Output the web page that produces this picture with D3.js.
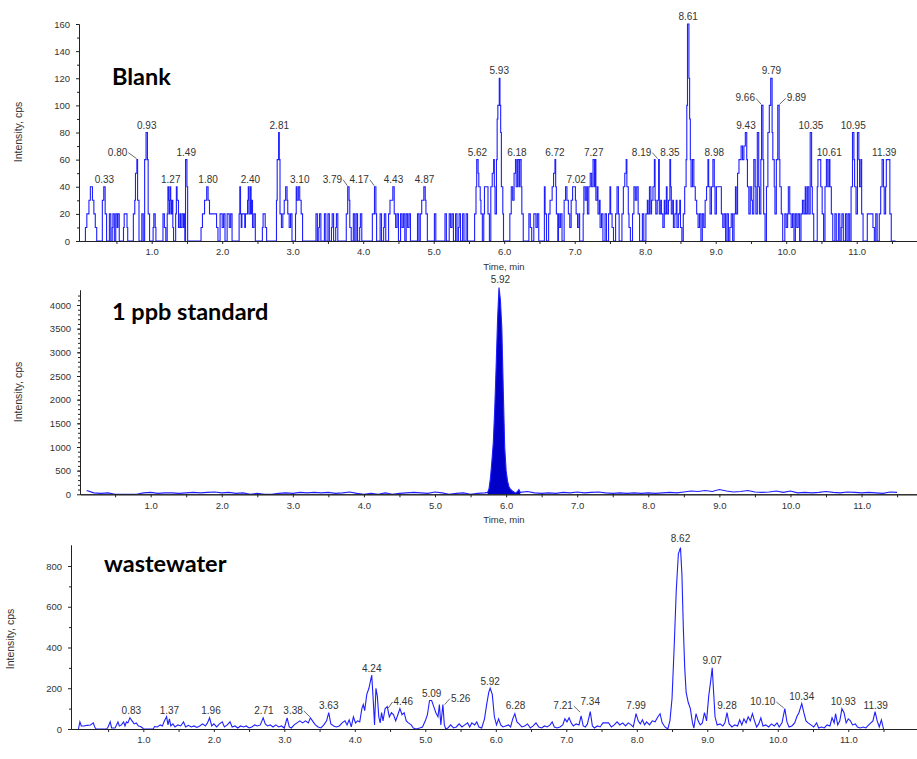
<!DOCTYPE html>
<html>
<head>
<meta charset="utf-8">
<script src="https://cdn.jsdelivr.net/npm/d3@7"></script>
<style>
    body { margin: 0; background: #fff; }
    svg { display: block; }
</style>
</head>
<body>
<div id="chart"></div>
<script>
// ---- Blank: step trace, [time (min), intensity (cps)] where the level changes
const blankSteps = [
    [0.05,0],[0.06,10],[0.08,20],[0.11,30],[0.13,40],[0.16,30],[0.18,20],[0.20,10],[0.22,0],
    [0.30,30],[0.32,40],[0.34,20],[0.36,0],
    [0.40,20],[0.42,0],[0.44,10],[0.45,20],[0.47,0],[0.49,20],[0.51,10],[0.52,20],[0.54,0],
    [0.60,10],[0.61,20],[0.65,10],[0.66,0],
    [0.74,20],[0.76,30],[0.77,50],[0.79,60],[0.80,30],[0.82,0],
    [0.86,20],[0.88,0],[0.90,60],[0.92,80],[0.94,60],[0.95,20],[0.97,0],
    [1.02,10],[1.03,20],[1.05,10],[1.06,0],
    [1.16,20],[1.18,10],[1.20,0],[1.22,20],[1.23,40],[1.24,30],[1.25,20],[1.26,40],[1.27,30],[1.28,20],[1.29,30],[1.30,10],[1.31,0],
    [1.34,20],[1.35,40],[1.36,30],[1.38,10],[1.40,20],[1.41,10],[1.43,20],[1.45,10],[1.46,20],[1.47,0],[1.48,60],[1.50,40],[1.51,0],
    [1.70,10],[1.72,20],[1.75,30],[1.78,40],[1.80,30],[1.82,20],[1.92,10],[1.94,0],
    [1.97,20],[2.00,10],[2.02,20],[2.04,0],[2.07,20],[2.10,10],[2.12,20],[2.14,0],
    [2.24,20],[2.25,40],[2.26,20],[2.27,10],[2.28,20],[2.32,10],[2.33,20],[2.36,30],[2.37,40],[2.38,20],[2.40,40],[2.41,20],[2.42,30],[2.43,10],[2.45,20],[2.47,0],
    [2.57,10],[2.58,20],[2.61,10],[2.63,0],
    [2.77,30],[2.78,60],[2.80,80],[2.81,60],[2.82,20],[2.84,10],[2.86,20],[2.88,30],[2.90,40],[2.92,30],[2.93,20],[2.95,10],[2.97,20],[2.99,0],
    [3.04,20],[3.05,40],[3.06,30],[3.08,40],[3.10,30],[3.12,20],[3.14,0],
    [3.33,20],[3.35,0],[3.37,10],[3.38,20],[3.40,0],[3.45,20],[3.47,0],[3.50,20],[3.52,0],[3.55,10],[3.56,20],[3.58,0],[3.61,10],[3.62,20],[3.64,0],
    [3.76,20],[3.78,40],[3.80,30],[3.81,10],[3.83,0],[3.86,20],[3.88,0],[3.90,20],[3.92,0],[3.95,10],[3.96,20],[3.98,0],
    [4.13,20],[4.16,40],[4.18,20],[4.19,0],[4.24,20],[4.26,0],[4.29,10],[4.30,20],[4.32,0],[4.36,20],[4.38,30],[4.42,40],[4.44,20],[4.46,10],[4.48,20],[4.50,0],
    [4.53,20],[4.55,10],[4.57,20],[4.59,0],[4.61,20],[4.63,10],[4.65,20],[4.67,0],
    [4.77,20],[4.79,0],[4.81,20],[4.83,30],[4.86,40],[4.88,30],[4.89,20],[4.91,0],
    [5.01,20],[5.03,0],
    [5.16,20],[5.18,0],[5.22,20],[5.24,10],[5.26,20],[5.28,0],[5.31,20],[5.33,0],[5.35,10],[5.36,20],[5.38,0],[5.41,20],[5.43,0],[5.46,20],[5.48,0],
    [5.58,20],[5.60,40],[5.61,60],[5.63,50],[5.64,40],[5.66,30],[5.67,20],[5.69,0],
    [5.71,20],[5.72,40],[5.75,40],[5.77,20],[5.79,0],[5.81,40],[5.83,50],[5.85,60],[5.86,40],[5.87,20],[5.89,60],[5.90,90],[5.91,100],[5.93,120],[5.94,100],[5.95,80],[5.96,40],[5.98,20],[5.99,0],
    [6.08,20],[6.10,40],[6.12,30],[6.14,50],[6.16,60],[6.17,40],[6.19,60],[6.21,40],[6.22,60],[6.24,40],[6.25,20],[6.27,0],
    [6.35,20],[6.37,10],[6.39,0],[6.42,20],[6.45,10],[6.47,20],[6.49,0],
    [6.57,40],[6.58,20],[6.60,0],[6.63,20],[6.65,30],[6.68,40],[6.70,50],[6.72,60],[6.73,40],[6.74,20],[6.76,0],[6.77,20],[6.78,10],[6.80,20],[6.82,0],
    [6.85,30],[6.87,40],[6.89,30],[6.91,20],[6.93,10],[6.95,30],[6.97,40],[7.01,30],[7.02,20],[7.04,10],[7.06,20],[7.07,0],
    [7.12,20],[7.13,40],[7.15,30],[7.17,40],[7.18,20],[7.20,40],[7.22,50],[7.24,40],[7.26,60],[7.28,40],[7.29,60],[7.30,30],[7.32,40],[7.33,20],[7.35,30],[7.36,10],[7.38,20],[7.40,0],
    [7.43,20],[7.45,0],[7.48,20],[7.50,40],[7.51,20],[7.53,10],[7.55,0],[7.58,20],[7.60,40],[7.62,20],[7.63,0],
    [7.67,20],[7.69,40],[7.71,50],[7.73,60],[7.74,40],[7.76,20],[7.77,10],[7.79,0],
    [7.82,20],[7.84,40],[7.86,30],[7.88,40],[7.90,20],[7.92,0],
    [7.96,20],[7.98,0],[8.01,20],[8.03,30],[8.04,20],[8.06,40],[8.08,20],[8.09,30],[8.11,40],[8.13,60],[8.14,30],[8.15,20],[8.17,30],[8.19,60],[8.20,20],[8.22,30],[8.23,20],[8.25,10],[8.27,30],[8.28,20],[8.30,40],[8.31,20],[8.33,30],[8.35,60],[8.36,40],[8.37,20],[8.39,30],[8.40,10],[8.42,20],[8.44,30],[8.45,10],[8.47,20],[8.49,30],[8.50,10],[8.52,0],
    [8.54,20],[8.56,40],[8.58,60],[8.59,100],[8.60,160],[8.62,120],[8.63,90],[8.64,60],[8.65,40],[8.67,60],[8.69,40],[8.71,30],[8.73,20],[8.75,10],[8.77,20],[8.79,0],[8.81,20],[8.83,10],
    [8.85,30],[8.87,40],[8.89,60],[8.90,40],[8.92,20],[8.94,40],[8.96,60],[8.98,40],[8.99,20],[9.01,40],[9.05,40],[9.08,20],[9.10,10],[9.12,20],[9.14,0],[9.16,20],[9.18,0],[9.20,10],[9.22,20],[9.24,0],
    [9.26,20],[9.28,40],[9.29,20],[9.31,50],[9.33,60],[9.36,70],[9.38,60],[9.40,70],[9.42,80],[9.44,60],[9.45,40],[9.47,20],[9.49,40],[9.51,30],[9.52,20],[9.54,60],[9.56,40],[9.57,20],[9.59,80],[9.61,40],[9.62,20],[9.64,60],[9.65,100],[9.67,60],[9.68,20],[9.70,0],
    [9.72,40],[9.74,80],[9.76,100],[9.78,120],[9.80,80],[9.81,60],[9.83,40],[9.84,20],[9.86,60],[9.88,100],[9.90,60],[9.91,40],[9.93,20],[9.95,0],
    [9.98,20],[10.00,10],[10.02,20],[10.03,40],[10.05,20],[10.07,10],[10.09,20],[10.11,0],[10.13,20],[10.15,10],[10.17,20],[10.19,0],[10.21,20],[10.23,30],[10.25,20],[10.27,40],[10.28,20],[10.30,40],[10.32,20],[10.34,80],[10.36,40],[10.37,20],[10.39,0],
    [10.44,40],[10.45,60],[10.49,40],[10.51,20],[10.53,0],[10.55,40],[10.57,60],[10.59,40],[10.61,60],[10.62,40],[10.64,20],[10.66,0],
    [10.69,20],[10.71,0],[10.74,20],[10.76,0],[10.78,10],[10.79,20],[10.81,0],[10.84,20],[10.86,0],[10.88,20],[10.90,0],
    [10.92,40],[10.94,80],[10.96,60],[10.97,40],[10.99,20],[11.01,80],[11.03,60],[11.04,40],[11.06,60],[11.07,20],[11.09,0],
    [11.15,20],[11.23,10],[11.25,0],[11.27,20],[11.29,0],
    [11.32,20],[11.34,40],[11.36,60],[11.38,40],[11.39,20],[11.41,40],[11.42,60],[11.47,20],[11.49,0],[11.55,0]
];
const blankLabels = ["0.33","0.80","0.93","1.27","1.49","1.80","2.40","2.81","3.10","3.79","4.17","4.43","4.87",
    "5.62","5.93","6.18","6.72","7.02","7.27","8.19","8.35","8.61","8.98","9.43","9.66","9.79","9.89","10.35","10.61","10.95","11.39"];
const blankLabelCps = [40,60,80,40,60,40,40,80,40,40,40,40,40,
    60,120,60,60,40,60,60,60,160,60,80,100,120,100,80,60,80,60];

// ---- 1 ppb standard: baseline noise on a 0.1 min grid, plus the 5.92 peak
const stdNoiseBefore = [80,30,20,30,0,0,0,0,30,40,20,30,30,20,30,40,30,40,50,30,40,20,30,0,20,0,0,20,30,20,
    40,30,40,30,40,20,30,50,20,0,20,0,30,0,20,30,40,30,20,50,30,0,20,30,0,20,30];   // 0.1 .. 5.7
const stdPeakTime = [5.74,5.76,5.78,5.80,5.82,5.84,5.86,5.88,5.90,5.92,5.94,5.96,5.98,6.00,6.02,6.04,6.06,6.08,6.10,6.12,6.14,6.16,6.18,6.20];
const stdPeakCps = [40,120,350,700,1100,1800,2700,3700,4370,4100,3500,2200,1000,500,280,160,110,80,60,40,30,60,100,40];
const stdNoiseAfter = [60,30,20,30,20,40,30,50,30,40,50,30,20,30,20,30,20,30,20,30,40,30,50,70,60,80,60,100,70,50,
    60,80,50,40,50,70,40,70,30,40,30,40,60,40,30,50,40,30,40,30,20,50,40];   // 6.3 .. 11.5
const stdLabels = ["5.92"];
const stdLabelCps = [4370];

// ---- wastewater
const wwTime = [0.08,0.10,0.12,0.16,0.20,0.25,0.29,0.31,0.33,0.48,0.50,0.53,0.55,0.60,0.64,0.66,0.69,0.72,0.74,0.76,0.78,0.81,0.84,0.87,0.90,0.93,0.96,0.99,1.00,
    1.14,1.16,1.20,1.24,1.27,1.30,1.33,1.35,1.37,1.39,1.42,1.45,1.49,1.53,1.57,1.60,1.64,1.68,1.72,1.76,1.80,1.84,1.88,1.91,1.94,1.97,
    2.00,2.04,2.08,2.12,2.15,2.19,2.23,2.26,2.30,2.34,2.38,2.42,2.46,2.50,2.54,2.58,2.62,2.66,2.70,2.73,2.76,2.80,2.84,2.88,2.92,2.96,
    3.00,3.04,3.07,3.10,3.14,3.18,3.22,3.26,3.30,3.34,3.37,3.40,3.44,3.48,3.52,3.56,3.60,3.63,3.66,3.70,3.74,3.78,3.82,3.86,3.89,3.92,3.95,3.98,
    4.01,4.04,4.07,4.10,4.12,4.14,4.17,4.20,4.24,4.26,4.28,4.30,4.32,4.34,4.36,4.38,4.40,4.43,4.46,4.49,4.52,4.55,4.58,4.61,4.64,4.67,4.70,4.73,4.76,4.80,4.83,4.87,4.92,4.96,
    5.00,5.03,5.06,5.09,5.12,5.15,5.18,5.20,5.22,5.25,5.27,5.29,5.32,5.36,5.40,5.44,5.48,5.52,5.56,5.60,5.63,5.66,5.70,5.73,5.76,5.80,5.84,5.87,5.90,5.92,5.95,5.98,
    6.01,6.04,6.07,6.10,6.14,6.18,6.21,6.24,6.27,6.30,6.33,6.37,6.41,6.45,6.49,6.53,6.57,6.61,6.65,6.69,6.73,6.77,6.80,6.83,6.87,6.91,6.95,6.98,
    7.01,7.04,7.07,7.10,7.14,7.18,7.21,7.24,7.27,7.30,7.34,7.37,7.40,7.44,7.48,7.52,7.56,7.60,7.64,7.68,7.72,7.76,7.80,7.84,7.88,7.92,7.95,7.99,
    8.02,8.05,8.08,8.11,8.14,8.18,8.22,8.26,8.30,8.33,8.36,8.40,8.44,8.47,8.50,8.53,8.56,8.59,8.62,8.64,8.66,8.68,8.70,8.73,8.76,8.79,8.81,8.84,8.87,8.90,8.93,8.96,8.99,
    9.02,9.05,9.07,9.09,9.11,9.14,9.18,9.22,9.25,9.28,9.31,9.35,9.39,9.43,9.46,9.49,9.52,9.55,9.58,9.61,9.64,9.67,9.70,9.73,9.76,9.79,9.83,9.87,9.91,9.95,9.99,
    10.02,10.06,10.10,10.13,10.16,10.20,10.24,10.27,10.30,10.34,10.37,10.40,10.43,10.47,10.51,10.55,10.58,10.62,10.66,10.70,10.74,10.77,10.80,10.82,10.85,10.88,10.91,10.94,10.97,
    11.00,11.03,11.06,11.10,11.13,11.17,11.21,11.25,11.29,11.32,11.35,11.38,11.41,11.44,11.47,11.50];
const wwCps = [0,35,15,15,18,20,30,10,0,0,10,35,5,5,35,15,20,35,15,35,30,55,40,25,30,15,12,5,0,
    0,12,10,20,15,40,60,20,50,15,25,10,20,15,35,10,18,10,15,8,15,25,15,30,55,15,
    25,10,25,35,10,20,35,10,15,5,15,10,15,5,10,20,15,20,55,25,15,20,10,20,10,15,
    5,55,10,5,20,30,40,30,40,30,55,40,20,10,5,20,40,80,25,15,10,15,30,40,20,45,10,60,
    30,40,35,100,120,90,170,200,265,150,20,200,160,60,30,80,40,100,110,60,80,70,40,70,100,70,80,40,30,20,5,0,5,10,
    40,70,140,140,110,80,60,120,20,120,20,0,5,20,5,10,25,10,20,30,10,30,20,35,10,5,50,120,180,200,170,60,
    20,50,20,10,15,20,10,50,75,35,25,10,15,25,5,15,30,10,5,15,10,20,35,10,5,10,20,50,
    35,55,30,15,25,20,65,15,10,25,85,15,5,15,10,30,30,30,10,20,35,20,30,15,30,20,10,75,
    40,25,45,20,35,20,40,35,60,75,30,10,0,40,150,400,680,860,890,760,500,300,180,130,100,30,5,75,40,20,30,80,40,
    160,240,300,180,60,20,25,15,30,80,25,10,20,15,45,20,50,30,60,40,75,40,10,25,55,15,20,10,25,15,30,
    10,30,100,35,10,15,30,60,80,125,80,40,30,20,10,30,5,10,5,20,15,55,30,75,20,40,100,80,30,
    50,40,20,25,10,5,10,5,20,30,40,85,40,10,45,0];
const wwLabels = ["0.83","1.37","1.96","2.71","3.38","3.63","4.24","4.46","5.09","5.26","5.92","6.28","7.21","7.34","7.99",
    "8.62","9.07","9.28","10.10","10.34","10.93","11.39"];
const wwLabelCps = [54,54,54,54,54,78,262,98,139,115,196,78,78,98,78,899,299,78,98,123,98,78];

// label offsets (px) for the peaks drawn with a leader line
const leaderOffsets = {
    blank: { "0.80": -20, "3.79": -16, "4.17": -16, "8.19": -17, "9.66": -17, "9.89": 18 },
    std: {},
    ww: { "3.38": -18, "4.46": 16, "5.26": 17, "7.21": -18, "10.10": -22 }
};

// axis ticks
const timeTicks = [1, 2, 3, 4, 5, 6, 7, 8, 9, 10, 11];
const timeMinorTicks = [0.5, 1.5, 2.5, 3.5, 4.5, 5.5, 6.5, 7.5, 8.5, 9.5, 10.5, 11.5];
const blankTicks = [0, 20, 40, 60, 80, 100, 120, 140, 160];
const stdTicks = [0, 500, 1000, 1500, 2000, 2500, 3000, 3500, 4000];
const wwTicks = [0, 200, 400, 600, 800];

document.addEventListener("DOMContentLoaded", function() {
    const width = 917;
    const height = 759;
    const lineColor = "#1f1fff";
    const textColor = "#333";
    const tickFont = "'Liberation Sans', Arial, sans-serif";

    const svg = d3.select("#chart")
        .append("svg")
        .attr("width", width)
        .attr("height", height);

    svg.append("rect")
        .attr("width", width)
        .attr("height", height)
        .attr("fill", "#fff");

    // build the standard trace from its three pieces
    const stdPoints = [];
    stdNoiseBefore.forEach((v, i) => stdPoints.push([0.1 + i * 0.1, v]));
    stdPeakTime.forEach((t, i) => stdPoints.push([t, stdPeakCps[i]]));
    stdNoiseAfter.forEach((v, i) => stdPoints.push([6.3 + i * 0.1, v]));

    const panels = [
        {
            key: "blank", title: "Blank", titleX: 112, titleY: 85,
            left: 79, bottom: 241, top: 24,
            xDomain: [-0.031, 11.855], yDomain: [0, 160],
            yTicks: blankTicks, yMinor: d3.range(10, 160, 20),
            points: blankSteps, curve: d3.curveStepAfter,
            labels: blankLabels, labelCps: blankLabelCps,
            yLabelY: 132, yLabelX: 22, timeLabelY: 270
        },
        {
            key: "std", title: "1 ppb standard", titleX: 112, titleY: 320,
            left: 80, bottom: 494.3, top: 290,
            xDomain: [0.006, 11.78], yDomain: [0, 4317],
            yTicks: stdTicks, yMinor: d3.range(100, 4300, 100),
            points: stdPoints, curve: d3.curveLinear,
            labels: stdLabels, labelCps: stdLabelCps,
            yLabelY: 392, yLabelX: 22, timeLabelY: 523
        },
        {
            key: "ww", title: "wastewater", titleX: 104, titleY: 572,
            left: 71, bottom: 729, top: 545,
            xDomain: [-0.026, 11.975], yDomain: [0, 903],
            yTicks: wwTicks, yMinor: d3.range(100, 900, 200),
            points: wwTime.map((t, i) => [t, wwCps[i]]), curve: d3.curveLinear,
            labels: wwLabels, labelCps: wwLabelCps,
            yLabelY: 639, yLabelX: 14, timeLabelY: null
        }
    ];

    const styleAxis = (g) => {
        g.select(".domain").attr("stroke", "#222");
        g.selectAll(".tick line").attr("stroke", "#222");
        g.selectAll("text")
            .attr("fill", textColor)
            .style("font-family", tickFont)
            .style("font-size", "9.5px");
    };

    const drawPanel = (p) => {
        const g = svg.append("g");

        const x = d3.scaleLinear().domain(p.xDomain).range([p.left, width]);
        const y = d3.scaleLinear().domain(p.yDomain).range([p.bottom, p.top]);

        // the trace
        if (p.key === "std") {
            const peak = stdPeakTime.map((t, i) => [t, stdPeakCps[i]]);
            g.append("path")
                .datum(peak)
                .attr("fill", "#0000c8")
                .attr("d", d3.area().x(d => x(d[0])).y0(y(0)).y1(d => y(d[1])));
        }

        g.append("path")
            .datum(p.points)
            .attr("fill", "none")
            .attr("stroke", lineColor)
            .attr("stroke-width", 1.1)
            .attr("d", d3.line().curve(p.curve).x(d => x(d[0])).y(d => y(d[1])));

        // axes
        g.append("g")
            .attr("transform", `translate(${p.left},0)`)
            .call(d3.axisLeft(y).tickValues(p.yMinor).tickSize(2).tickSizeOuter(0).tickFormat(""))
            .call(styleAxis);

        g.append("g")
            .attr("transform", `translate(${p.left},0)`)
            .call(d3.axisLeft(y).tickValues(p.yTicks).tickSize(3).tickPadding(6).tickSizeOuter(0).tickFormat(d3.format("d")))
            .call(styleAxis);

        g.append("g")
            .attr("transform", `translate(0,${p.bottom})`)
            .call(d3.axisBottom(x).tickValues(timeMinorTicks).tickSize(3).tickSizeOuter(0).tickFormat(""))
            .call(styleAxis);

        g.append("g")
            .attr("transform", `translate(0,${p.bottom})`)
            .call(d3.axisBottom(x).tickValues(timeTicks).tickSize(3).tickPadding(4.5).tickSizeOuter(0).tickFormat(d3.format(".1f")))
            .call(styleAxis);

        // peak labels
        const offsets = leaderOffsets[p.key];
        p.labels.forEach((label, i) => {
            const peakX = x(+label);
            const peakY = y(p.labelCps[i]);
            const dx = offsets[label] || 0;
            const text = g.append("text")
                .attr("x", peakX + dx)
                .attr("y", peakY - 4)
                .attr("text-anchor", "middle")
                .attr("fill", textColor)
                .style("font-family", tickFont)
                .style("font-size", "10px")
                .text(label);

            if (dx !== 0) {
                const w = text.node().getComputedTextLength();
                const x1 = dx < 0 ? peakX + dx + w / 2 + 1 : peakX + 1;
                const x2 = dx < 0 ? peakX - 1 : peakX + dx - w / 2 - 1;
                const y1 = dx < 0 ? peakY - 7 : peakY - 1;
                const y2 = dx < 0 ? peakY - 1 : peakY - 7;
                g.append("line")
                    .attr("x1", x1).attr("y1", y1)
                    .attr("x2", x2).attr("y2", y2)
                    .attr("stroke", "#444")
                    .attr("stroke-width", 0.8);
            }
        });

        // axis titles
        g.append("text")
            .attr("transform", `translate(${p.yLabelX},${p.yLabelY}) rotate(-90)`)
            .attr("text-anchor", "middle")
            .attr("fill", textColor)
            .style("font-family", tickFont)
            .style("font-size", "10.5px")
            .text("Intensity, cps");

        if (p.timeLabelY) {
            g.append("text")
                .attr("x", 504)
                .attr("y", p.timeLabelY)
                .attr("text-anchor", "middle")
                .attr("fill", textColor)
                .style("font-family", tickFont)
                .style("font-size", "9.5px")
                .text("Time, min");
        }

        // sample name
        g.append("text")
            .attr("x", p.titleX)
            .attr("y", p.titleY)
            .attr("fill", "#000")
            .style("font-family", "Lato, 'Open Sans', sans-serif")
            .style("font-weight", "bold")
            .style("font-size", "23.5px")
            .text(p.title);
    };

    panels.forEach(drawPanel);
});
</script>
</body>
</html>
